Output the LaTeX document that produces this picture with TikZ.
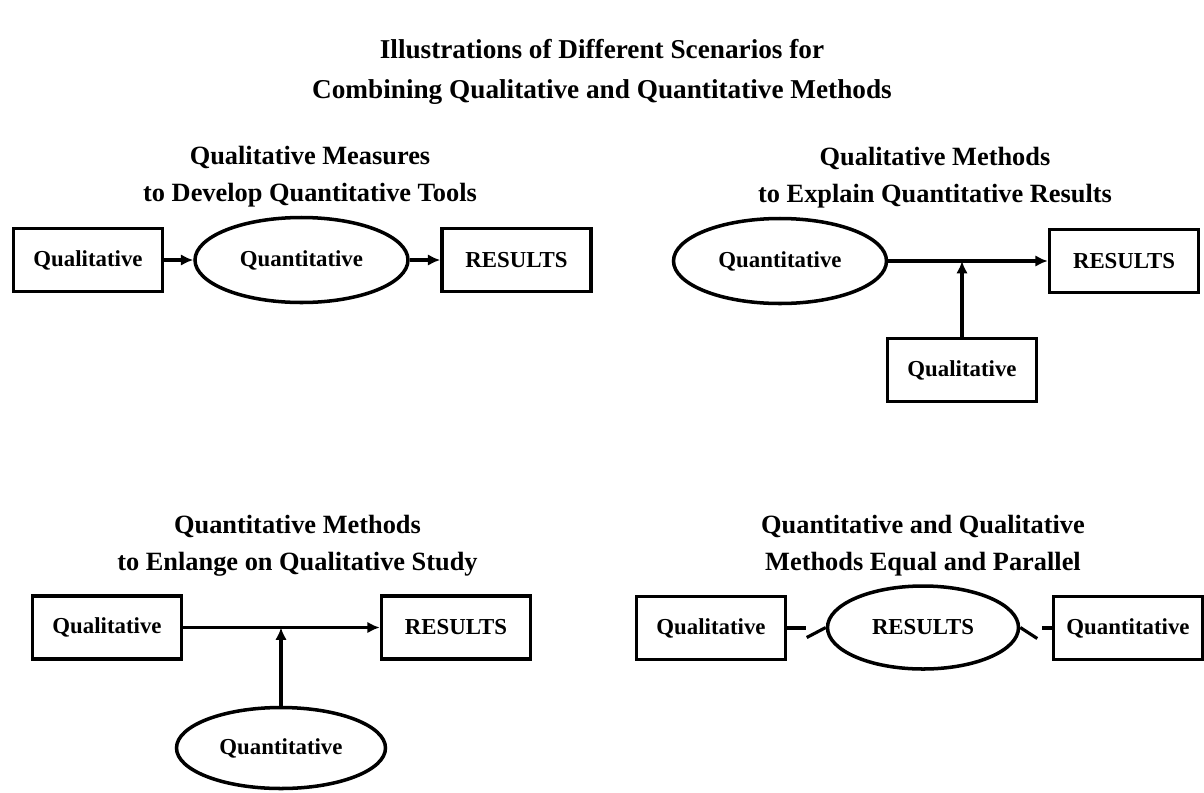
\documentclass[tikz,border=0pt]{standalone}
\usepackage{fontspec}
\setmainfont{Liberation Serif}
\usepackage{tikz}
\usetikzlibrary{positioning,arrows.meta,shapes.geometric,calc}

\begin{document}
\begin{tikzpicture}[>={Latex[length=7pt,width=6.5pt]}, line width=1.8pt,
    every node/.style={align=center},
    box/.style={draw, line width=2pt, minimum width=2.98cm, minimum height=1.26cm, inner sep=0pt,
                font=\fontsize{13}{15}\selectfont\bfseries},
    oval/.style={draw, ellipse, line width=2pt, minimum width=4.26cm, minimum height=1.70cm, inner sep=0pt,
                font=\fontsize{13}{15}\selectfont\bfseries},
    heading/.style={font=\fontsize{15}{21}\selectfont\bfseries}]
  \useasboundingbox (0,0) rectangle (24.08,-15.84);
  % title
  \node[heading, font=\fontsize{15.5}{22.5}\selectfont\bfseries] (title) at (12.04,-1.44)
      {Illustrations of Different Scenarios for\\Combining Qualitative and Quantitative Methods};

  % scenario A (top left)
  \node[heading] (headA) at (6.20,-3.53) {Qualitative Measures\\to Develop Quantitative Tools};
  \node[box] (qualA) at (1.76,-5.20) {Qualitative};
  \node[oval] (quantA) at (6.03,-5.20) {Quantitative};
  \node[box] (resA) at (10.33,-5.20) {RESULTS};
  \draw[->] (qualA) -- (quantA);
  \draw[->] (quantA) -- (resA);

  % scenario B (top right)
  \node[heading] (headB) at (18.70,-3.55) {Qualitative Methods\\to Explain Quantitative Results};
  \node[oval] (quantB) at (15.60,-5.22) {Quantitative};
  \node[box] (resB) at (22.48,-5.22) {RESULTS};
  \node[box] (qualB) at (19.24,-7.40) {Qualitative};
  \draw[->] (quantB) -- (resB);
  \draw[->] (qualB) -- (qualB |- quantB);

  % scenario C (bottom left)
  \node[heading] (headC) at (5.95,-10.91) {Quantitative Methods\\to Enlange on Qualitative Study};
  \node[box] (qualC) at (2.14,-12.55) {Qualitative};
  \node[box] (resC) at (9.12,-12.55) {RESULTS};
  \node[oval, minimum width=4.18cm, minimum height=1.62cm] (quantC) at (5.62,-14.96) {Quantitative};
  \draw[->] (qualC) -- (resC);
  \draw[->] (quantC) -- (quantC |- qualC);

  % scenario D (bottom right)
  \node[heading] (headD) at (18.46,-10.91) {Quantitative and Qualitative\\Methods Equal and Parallel};
  \node[box] (qualD) at (14.22,-12.56) {Qualitative};
  \node[oval, minimum width=3.82cm, minimum height=1.66cm] (resD) at (18.46,-12.55) {RESULTS};
  \node[box] (quantD) at (22.56,-12.56) {Quantitative};
  % broken links
  \draw (qualD.east) -- ++(0.38,0);
  \draw (resD.west) -- ++(-0.38,-0.2);
  \draw (resD.east) -- ++(0.34,-0.22);
  \draw (quantD.west) -- ++(-0.2,0);
\end{tikzpicture}
\end{document}
